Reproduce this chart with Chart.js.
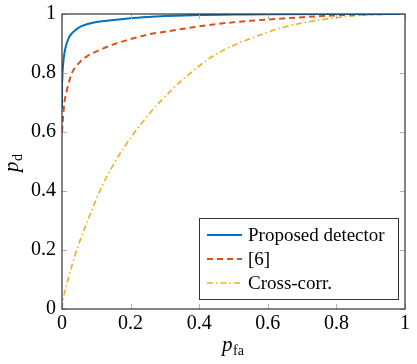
<!DOCTYPE html>
<html>
<head>
<meta charset="utf-8">
<script src="https://cdn.jsdelivr.net/npm/chart.js@4"></script>
<style>
  html, body { margin: 0; padding: 0; background: #fff; }
  #wrap { width: 417px; height: 364px; }
</style>
</head>
<body>
<div id="wrap"><canvas id="chart" width="417" height="364"></canvas></div>
<script>
// ROC data
const pfaProposed = [0, 0, 0.002, 0.005, 0.01, 0.02, 0.03, 0.05, 0.075, 0.1, 0.15, 0.2, 0.25, 0.3, 0.4, 0.5, 0.6, 0.8, 1];
const pdProposed = [0.68, 0.76, 0.81, 0.85, 0.885, 0.92, 0.936, 0.955, 0.966, 0.973, 0.98, 0.986, 0.99, 0.993, 0.997, 0.998, 0.999, 1, 1];

const pfaRef6 = [0, 0.003, 0.007, 0.014, 0.028, 0.052, 0.077, 0.106, 0.15, 0.203, 0.257, 0.3, 0.388, 0.451, 0.55, 0.645, 0.79, 0.9, 1];
const pdRef6 = [0.6, 0.65, 0.7, 0.741, 0.797, 0.837, 0.86, 0.876, 0.897, 0.916, 0.932, 0.94, 0.956, 0.966, 0.977, 0.985, 0.995, 0.999, 1];

const pfaCross = [0, 0.004, 0.02, 0.043, 0.08, 0.116, 0.155, 0.203, 0.257, 0.286, 0.354, 0.451, 0.548, 0.645, 0.743, 0.84, 0.917, 1];
const pdCross = [0, 0.035, 0.11, 0.2, 0.315, 0.414, 0.5, 0.585, 0.665, 0.703, 0.78, 0.865, 0.916, 0.955, 0.978, 0.993, 0.998, 1];

const seriesNames = ["Proposed detector", "[6]", "Cross-corr."];
const tickValues = [0, 0.2, 0.4, 0.6, 0.8, 1];
const tickLabels = ["0", "0.2", "0.4", "0.6", "0.8", "1"];

function toPoints(xs, ys) {
  return xs.map((x, i) => ({ x: x, y: ys[i] }));
}

Chart.defaults.font.family = "'Liberation Serif', 'DejaVu Serif', serif";
Chart.defaults.font.size = 20;
Chart.defaults.color = "#000";

// inward tick marks, frame, axis titles and legend box (pgfplots look)
const decorations = {
  id: "decorations",
  afterDatasetsDraw(chart) {
    const ctx = chart.ctx;
    const a = chart.chartArea;
    const xs = chart.scales.x;
    const ys = chart.scales.y;
    ctx.save();
    ctx.strokeStyle = "#b0b0b0";
    ctx.lineWidth = 1;
    tickValues.forEach(function (v) {
      const px = Math.round(xs.getPixelForValue(v)) + 0.5;
      const py = Math.round(ys.getPixelForValue(v)) + 0.5;
      ctx.beginPath();
      ctx.moveTo(px, a.bottom); ctx.lineTo(px, a.bottom - 5);
      ctx.moveTo(px, a.top); ctx.lineTo(px, a.top + 5);
      ctx.moveTo(a.left, py); ctx.lineTo(a.left + 5, py);
      ctx.moveTo(a.right, py); ctx.lineTo(a.right - 5, py);
      ctx.stroke();
    });
    ctx.strokeStyle = "#333";
    ctx.lineWidth = 1.2;
    ctx.strokeRect(a.left, a.top, a.right - a.left, a.bottom - a.top);

    // legend
    const lx = 199.5, ly = 218.5, lw = 199, lh = 81;
    ctx.fillStyle = "#fff";
    ctx.fillRect(lx, ly, lw, lh);
    ctx.strokeStyle = "#333";
    ctx.lineWidth = 1;
    ctx.strokeRect(lx, ly, lw, lh);
    const rows = [235, 259, 283];
    chart.data.datasets.forEach(function (ds, i) {
      ctx.strokeStyle = ds.borderColor;
      ctx.lineWidth = ds.borderWidth;
      ctx.setLineDash(ds.borderDash || []);
      ctx.beginPath();
      ctx.moveTo(207, rows[i]);
      ctx.lineTo(242, rows[i]);
      ctx.stroke();
      ctx.setLineDash([]);
      ctx.fillStyle = "#000";
      ctx.font = "19px 'Liberation Serif', serif";
      ctx.textBaseline = "middle";
      ctx.textAlign = "left";
      ctx.fillText(ds.label, 248, rows[i] + 1);
    });

    // axis titles with subscripts
    ctx.fillStyle = "#000";
    ctx.textBaseline = "alphabetic";
    ctx.textAlign = "left";
    ctx.font = "italic 21px 'Liberation Serif', serif";
    ctx.fillText("p", 222, 351);
    ctx.font = "14px 'Liberation Serif', serif";
    ctx.fillText("fa", 233, 355);

    ctx.translate(18, 172);
    ctx.rotate(-Math.PI / 2);
    ctx.font = "italic 21px 'Liberation Serif', serif";
    ctx.fillText("p", 0, 0);
    ctx.font = "14px 'Liberation Serif', serif";
    ctx.fillText("d", 11, 4);
    ctx.restore();
  },
};

const canvasRef = document.getElementById("chart");

const myChart = new Chart(canvasRef, {
  type: "line",
  data: {
    datasets: [
      {
        label: seriesNames[0],
        data: toPoints(pfaProposed, pdProposed),
        borderColor: "#0072BD",
        borderWidth: 2,
      },
      {
        label: seriesNames[1],
        data: toPoints(pfaRef6, pdRef6),
        borderColor: "#D95319",
        borderWidth: 2,
        borderDash: [6, 4],
      },
      {
        label: seriesNames[2],
        data: toPoints(pfaCross, pdCross),
        borderColor: "#EDB120",
        borderWidth: 1.6,
        borderDash: [6, 3, 1.5, 3],
      },
    ],
  },
  options: {
    responsive: false,
    animation: false,
    parsing: false,
    elements: {
      point: { radius: 0 },
      line: { cubicInterpolationMode: "monotone", fill: false },
    },
    layout: { padding: { top: 14, right: 12, left: 0, bottom: 0 } },
    plugins: { legend: { display: false }, tooltip: { enabled: false } },
    scales: {
      x: {
        type: "linear",
        min: 0,
        max: 1,
        grid: { display: false, drawTicks: false },
        border: { display: false },
        afterBuildTicks: function (axis) {
          axis.ticks = tickValues.map((v) => ({ value: v }));
        },
        ticks: {
          maxRotation: 0,
          padding: 3,
          callback: function (v) {
            return tickLabels[tickValues.indexOf(v)];
          },
        },
        afterFit: function (axis) {
          axis.height = 55;
          axis.paddingLeft = 0;
          axis.paddingRight = 0;
        },
      },
      y: {
        type: "linear",
        min: 0,
        max: 1,
        grid: { display: false, drawTicks: false },
        border: { display: false },
        afterBuildTicks: function (axis) {
          axis.ticks = tickValues.map((v) => ({ value: v }));
        },
        ticks: {
          padding: 6,
          callback: function (v) {
            return tickLabels[tickValues.indexOf(v)];
          },
        },
        afterFit: function (axis) {
          axis.width = 62;
          axis.paddingTop = 0;
          axis.paddingBottom = 0;
        },
      },
    },
  },
  plugins: [decorations],
});
</script>
</body>
</html>
